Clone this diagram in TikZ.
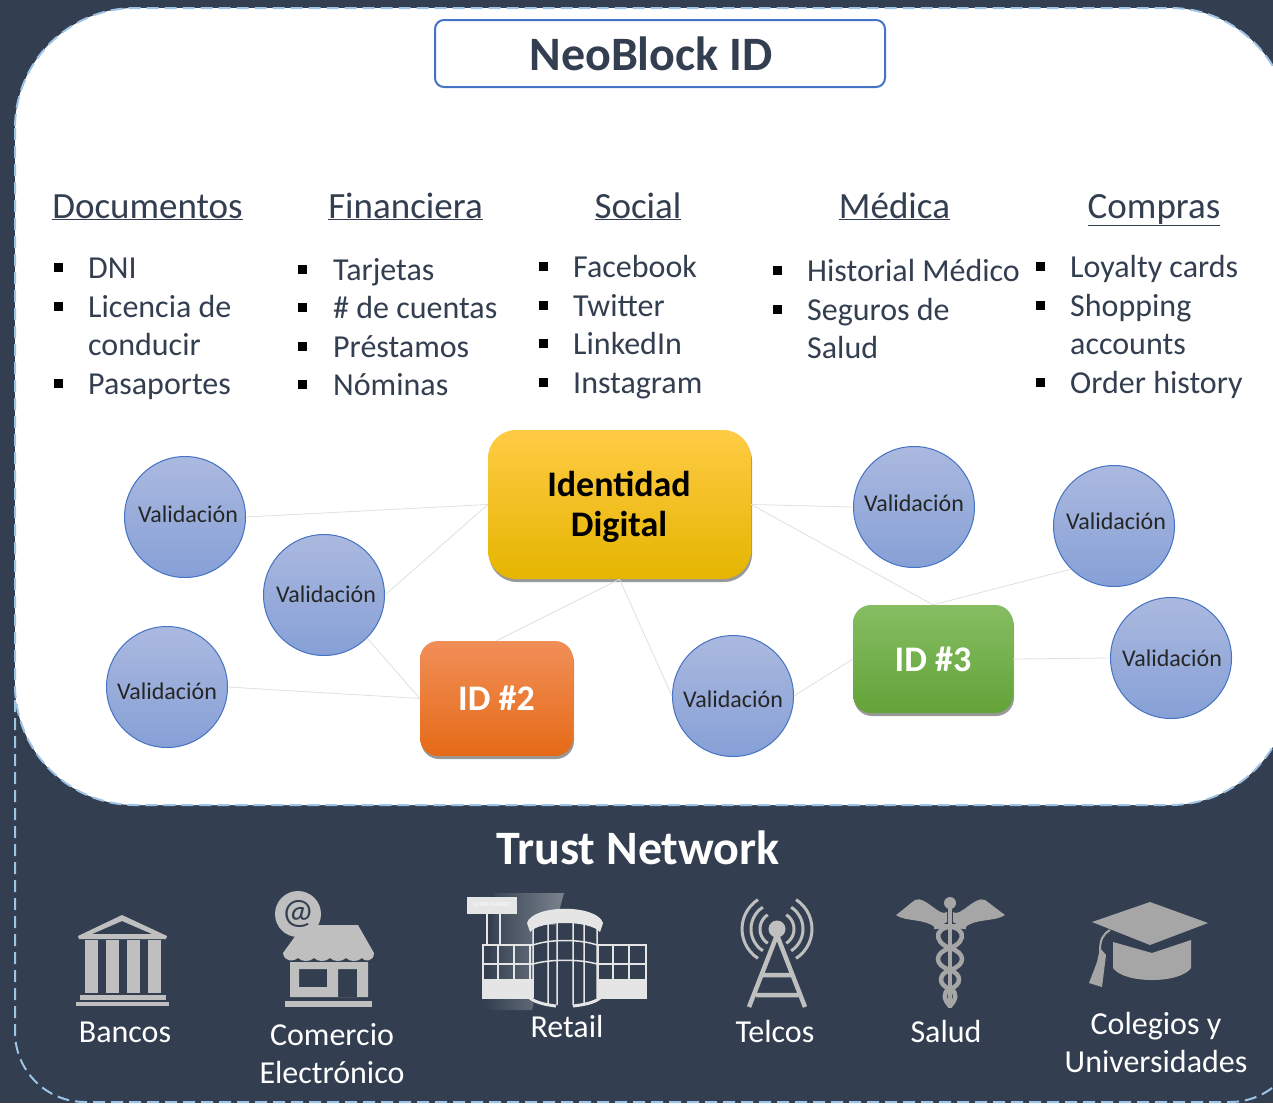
\documentclass[tikz,border=0pt]{standalone}
\usepackage{fontspec}
\setmainfont{Carlito}
\usetikzlibrary{shadows}
\definecolor{slate}{HTML}{333F50}
\definecolor{dashblue}{HTML}{9DC3E6}
\definecolor{boxblue}{HTML}{4472C4}
\definecolor{circtop}{HTML}{ABB9DF}
\definecolor{circbot}{HTML}{86A0D6}
\definecolor{goldA}{HTML}{FFCB45}
\definecolor{goldB}{HTML}{FFC600}
\definecolor{goldC}{HTML}{E5B500}
\definecolor{orgA}{HTML}{F18F58}
\definecolor{orgB}{HTML}{F67E2C}
\definecolor{orgC}{HTML}{E56A17}
\definecolor{grnA}{HTML}{86BD63}
\definecolor{grnB}{HTML}{72B044}
\definecolor{grnC}{HTML}{63A338}
\colorlet{linkcol}{black!12}
\colorlet{iconA}{black!25}
\colorlet{iconB}{black!35}
\colorlet{iconC}{black!10}
\newcommand{\fsize}[1]{\fontsize{#1}{#1}\selectfont}
\tikzstyle{frame}=[draw=dashblue,line width=2pt,dash pattern=on 12pt off 6pt]
\tikzstyle{valid}=[circle,draw=boxblue,line width=1pt,minimum size=121pt,inner sep=0pt,top color=circtop,bottom color=circbot]
\tikzstyle{validtext}=[text=black!85,font=\fsize{24},inner sep=0pt]
\tikzstyle{idbox}=[rectangle,rounded corners=18pt,inner sep=0pt,align=center,font=\bfseries\fsize{36},drop shadow={shadow xshift=1pt,shadow yshift=-3pt,fill=black,opacity=.4}]
\tikzstyle{link}=[linkcol,line width=.8pt]
\tikzstyle{head}=[anchor=base,text=slate,font=\fsize{37},inner sep=0pt]
\tikzstyle{item}=[anchor=base west,text=slate,font=\fsize{32},inner sep=0pt]
\tikzstyle{bull}=[rectangle,fill=black,minimum size=9pt,inner sep=0pt]
\tikzstyle{trust}=[anchor=base,text=white,font=\fsize{32},inner sep=0pt]
\begin{document}
\begin{tikzpicture}[x=1pt,y=-1pt]
  \clip (0,0) rectangle (1273,1103);
  \fill[slate] (0,0) rectangle (1273,1103);
  % Frames
  \draw[frame,rounded corners=70pt] (15,700) -- (15,1102) -- (1300,1102) -- (1300,700);
  \draw[frame,fill=white,rounded corners=120pt] (15,8) rectangle (1290,805);
  % Title
  \node[draw=boxblue,line width=2pt,fill=white,rounded corners=9pt,minimum width=450pt,minimum height=67pt] (title) at (660,53.5) {};
  \node[text=slate,font=\bfseries\fsize{48},inner sep=0pt] (titletext) at (651,54) {NeoBlock ID};
  % Headings
  \foreach \name/\x/\txt in {doc/147.5/Documentos,fin/405.5/Financiera,soc/638/Social,med/894.5/Médica,com/1154/Compras}
    \node[head] (\name) at (\x,218) {\underline{\txt}};
  % Lists
  \foreach \x/\y in {58/267,58/306,58/383,302/269,302/307,302/346,302/384,543/266,543/305,543/343,543/382,777/270,777/309,1040/266,1040/305,1040/382}
    \node[bull] (b\x-\y) at (\x,\y) {};
  \foreach \name/\x/\y/\txt in {
    da/88/278/DNI,db/88/317/Licencia de,dc/88/355/conducir,dd/88/394/Pasaportes,
    fa/333/280/Tarjetas,fb/333/318/\# de cuentas,fc/333/357/Préstamos,fd/333/395/Nóminas,
    sa/573/277/Facebook,sb/573/316/Twitter,sc/573/354/LinkedIn,sd/573/393/Instagram,
    ma/807/281/Historial Médico,mb/807/320/Seguros de,mc/807/358/Salud,
    ca/1070/277/Loyalty cards,cb/1070/316/Shopping,cc/1070/354/accounts,cd/1070/393/Order history}
    \node[item] (\name) at (\x,\y) {\txt};
  % Identities
  \node[idbox,rounded corners=28pt,minimum width=263pt,minimum height=149pt,top color=goldA,middle color=goldB,bottom color=goldC,text=black] (ident) at (619.5,504.5) {};
  \node[text=black,font=\bfseries\fsize{36},inner sep=0pt] (identa) at (619,484) {Identidad};
  \node[text=black,font=\bfseries\fsize{36},inner sep=0pt] (identb) at (619,527) {Digital};
  \node[idbox,minimum width=153pt,minimum height=115pt,top color=orgA,middle color=orgB,bottom color=orgC,text=white] (idb) at (496.5,698.5) {ID \#2};
  \node[idbox,minimum width=160pt,minimum height=108pt,top color=grnA,middle color=grnB,bottom color=grnC,text=white] (idc) at (933,659) {ID \#3};
  % Validators
  \foreach \name/\x/\y/\tx/\ty in {va/185/517/188/514,vb/324/595/326/594,vc/167/687/167/691,vd/733/696/733/699,ve/914/507/914/503,vf/1114/526/1116/521,vg/1171/658/1172/658}{
    \node[valid] (\name) at (\x,\y) {};
    \node[validtext] (\name t) at (\tx,\ty) {Validación};
  }
  % Links
  \draw[link] (va.east) -- (ident.west);
  \draw[link] (vb.east) -- (ident.west);
  \draw[link] (vb.-45) -- (idb.west);
  \draw[link] (vc.east) -- (idb.west);
  \draw[link] (idb.north) -- (ident.south);
  \draw[link] (ident.south) -- (vd.west);
  \draw[link] (vd.east) -- (idc.west);
  \draw[link] (ident.east) -- (ve.west);
  \draw[link] (ident.east) -- (idc.north);
  \draw[link] (idc.north) -- (vf.225);
  \draw[link] (idc.east) -- (vg.west);
  % Network
  \node[text=white,font=\bfseries\fsize{48},inner sep=0pt] (net) at (638,848) {Trust Network};
  \foreach \name/\x/\y/\txt in {la/125/1042/Bancos,lb/332/1045/Comercio,lc/332/1083/Electrónico,ld/567/1037/Retail,le/775/1042/Telcos,lf/946/1042/Salud,lg/1156/1034/Colegios y,lh/1156/1072/Universidades}
    \node[trust] (\name) at (\x,\y) {\txt};
  % Bank
  \fill[iconA,even odd rule] (122,915) -- (167,936) -- (166,939) -- (79,939) -- (78,936) -- cycle (122,921) -- (92,934) -- (152,934) -- cycle;
  \foreach \x in {85,106,127,148}
    \fill[iconA] (\x,940) rectangle ++(13,53);
  \fill[iconA] (80,995) rectangle (166,1000);
  \fill[iconA] (76,1002) rectangle (169,1006);
  % Shop
  \fill[iconA] (298,914) circle (23pt);
  \node[text=slate,font=\fsize{36},inner sep=0pt] (at) at (298,914) {@};
  \fill[iconA] (318,925) -- (358,925) -- (374,953) .. controls (374,962) and (364,962) .. (362,958) .. controls (358,962) and (350,962) .. (346,958) .. controls (342,962) and (334,962) .. (330,958) .. controls (326,962) and (318,962) .. (314,958) .. controls (310,962) and (302,962) .. (298,958) .. controls (294,962) and (284,962) .. (283,953) -- (296,935) -- cycle;
  \fill[iconA,even odd rule] (290,962) rectangle (368,997) (299,969) rectangle (327,987) (338,969) rectangle (357,997);
  \fill[iconA] (285,1001) rectangle (372,1007);
  % Retail
  \shade[left color=slate,right color=slate!65!white] (495,893) -- (564,893) -- (532,1010) -- (485,1010) -- cycle;
  \fill[iconC] (467,897) rectangle (517,914);
  \node[text=white,font=\fsize{6},inner sep=0pt] (mkt) at (492,905) {SUPER MARKET};
  \draw[iconC,line width=1.5pt] (487,914) -- (487,945) (500,914) -- (500,945);
  \fill[iconC] (483,980) rectangle (646,998);
  \draw[iconC,line width=1.5pt] (483,945) rectangle (646,998) (483,964) -- (646,964) (483,980) -- (646,980);
  \foreach \x in {498,514,530,598,613,629}
    \draw[iconC,line width=1.5pt] (\x,945) -- (\x,980);
  \fill[slate] (533,925) rectangle (597,1003);
  \draw[iconC,line width=1.5pt] (533,945) .. controls (550,939) and (580,939) .. (597,945) (533,964) .. controls (550,959) and (580,959) .. (597,964) (533,928) -- (533,998) (548,922) -- (548,1005) (557,920) -- (557,1005) (573,920) -- (573,1005) (584,920) -- (584,1005) (597,928) -- (597,998);
  \fill[iconC] (527,923) .. controls (533,904) and (597,904) .. (603,923) -- (600,932) .. controls (590,920) and (540,920) .. (530,932) -- cycle;
  \draw[iconC,line width=3pt] (530,998) .. controls (536,1003) and (548,1005) .. (556,1006) (573,1006) .. controls (582,1005) and (594,1003) .. (600,998);
  % Tower
  \fill[iconA] (777,929) circle (8.5pt);
  \draw[iconA,line width=4.5pt] (777,935) -- (749,1007) (777,935) -- (805,1007) (763,975) -- (791,975) (756,995) -- (798,995);
  \foreach \r in {17,26,35}{
    \draw[iconA,line width=3pt] plot[domain=-57:57,samples=15] ({777-\r*cos(\x)},{929+\r*sin(\x)});
    \draw[iconA,line width=3pt] plot[domain=-57:57,samples=15] ({777+\r*cos(\x)},{929+\r*sin(\x)});
  }
  % Caduceus
  \fill[iconB] (950,903) circle (6pt);
  \fill[iconB] (947,912) .. controls (940,918) and (925,895) .. (915,900) .. controls (908,905) and (903,910) .. (896,915) .. controls (905,922) and (925,918) .. (936,928) -- (947,922) -- cycle;
  \fill[iconB] (953,912) .. controls (960,918) and (975,895) .. (985,900) .. controls (992,905) and (998,910) .. (1005,915) .. controls (995,922) and (975,918) .. (964,928) -- (953,922) -- cycle;
  \draw[iconB,line width=4pt] (950,905) -- (950,1008);
  \draw[iconB,line width=4.5pt] (966,927) .. controls (932,922) and (932,942) .. (950,948) .. controls (966,953) and (966,965) .. (950,970) .. controls (938,974) and (938,985) .. (950,989) .. controls (958,992) and (956,1000) .. (950,1006);
  \draw[iconB,line width=4.5pt] (934,927) .. controls (968,922) and (968,942) .. (950,948) .. controls (934,953) and (934,965) .. (950,970) .. controls (962,974) and (962,985) .. (950,989) .. controls (942,992) and (944,1000) .. (950,1006);
  % Cap
  \fill[iconB] (1150,902) -- (1208,923) -- (1150,945) -- (1092,922) -- cycle;
  \fill[iconB] (1113,942) -- (1152,953) -- (1191,940) -- (1191,968) .. controls (1180,984) and (1124,984) .. (1113,968) -- cycle;
  \draw[iconB,line width=2pt] (1110,930) .. controls (1102,935) and (1100,940) .. (1100,952);
  \fill[iconB] (1100,948) -- (1106,955) -- (1102,987) -- (1089,983) -- (1097,962) -- cycle;
\end{tikzpicture}
\end{document}
